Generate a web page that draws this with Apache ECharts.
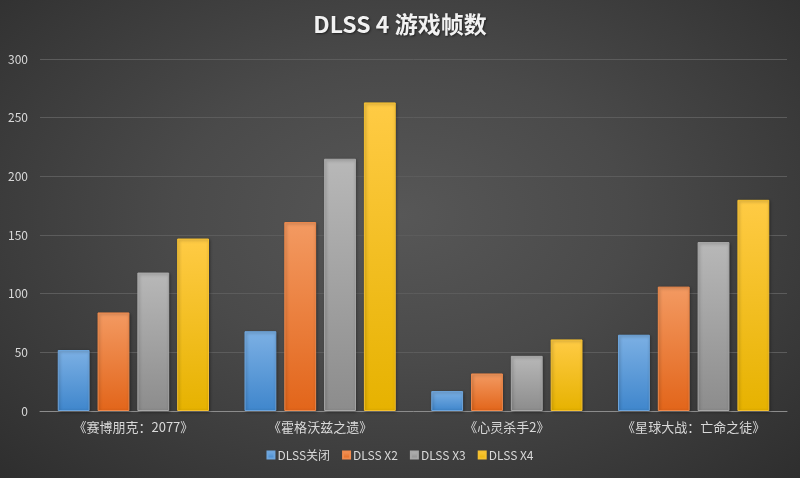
<!DOCTYPE html>
<html>
<head>
<meta charset="utf-8">
<script src="https://cdn.jsdelivr.net/npm/echarts@6/dist/echarts.min.js"></script>
<style>
    html, body { margin: 0; padding: 0; }
    #chart {
        width: 800px; height: 478px;
        background: radial-gradient(ellipse at 50% 45%, #575757 0%, #4a4a4a 40%, #2e2e2e 100%);
    }
</style>
</head>
<body>
<div id="chart"></div>
<script>
const games = ["《赛博朋克：2077》", "《霍格沃兹之遗》", "《心灵杀手2》", "《星球大战：亡命之徒》"];
const dlssOff = [52, 68, 17, 65];
const dlssX2 = [84, 161, 32, 106];
const dlssX3 = [118, 215, 47, 144];
const dlssX4 = [147, 263, 61, 180];
const yTicks = { min: 0, max: 300, interval: 50 };

const fontFamily = "'Noto Sans CJK SC', 'Noto Sans', sans-serif";

function grad(top, bottom) {
    return new echarts.graphic.LinearGradient(0, 0, 0, 1, [
        { offset: 0, color: top },
        { offset: 1, color: bottom }
    ]);
}

function bar(name, data, top, bottom, border) {
    return {
        name: name,
        type: "bar",
        data: data,
        barGap: "25%",
        barCategoryGap: "19%",
        itemStyle: {
            color: grad(top, bottom),
            borderColor: border,
            borderWidth: 1,
            shadowColor: "rgba(0,0,0,0.35)",
            shadowBlur: 3,
            shadowOffsetX: 1,
            shadowOffsetY: 1
        }
    };
}

let myChart = echarts.init(document.getElementById("chart"));
myChart.setOption({
    backgroundColor: "transparent",
    animation: false,
    title: {
        text: "DLSS 4 游戏帧数",
        left: "center",
        top: 8,
        textStyle: {
            color: "#f2f2f2", fontSize: 23, fontWeight: "bold", fontFamily: fontFamily,
            textShadowColor: "rgba(0,0,0,0.5)", textShadowBlur: 2, textShadowOffsetX: 1, textShadowOffsetY: 1
        }
    },
    legend: {
        bottom: 12,
        itemWidth: 7,
        itemHeight: 7,
        itemGap: 12,
        icon: "rect",
        textStyle: { color: "#d9d9d9", fontSize: 12, fontFamily: fontFamily, padding: [0, 0, 0, -2] },
        data: ["DLSS关闭", "DLSS X2", "DLSS X3", "DLSS X4"]
    },
    grid: { left: 40, right: 13, top: 59, bottom: 67 },
    xAxis: {
        type: "category",
        data: games,
        axisLine: { lineStyle: { color: "#8c8c8c", width: 1 } },
        axisTick: { show: false },
        axisLabel: { color: "#d9d9d9", fontSize: 13, fontFamily: fontFamily, margin: 10 }
    },
    yAxis: {
        type: "value",
        min: yTicks.min,
        max: yTicks.max,
        interval: yTicks.interval,
        axisLine: { show: false },
        axisTick: { show: false },
        axisLabel: { color: "#d9d9d9", fontSize: 12, fontFamily: fontFamily, margin: 12 },
        splitLine: { lineStyle: { color: "#5c5c5c", width: 1 } }
    },
    series: [
        bar("DLSS关闭", dlssOff, "#7cb0e4", "#3f86cc", "#6ea5dc"),
        bar("DLSS X2", dlssX2, "#f39a62", "#e2651a", "#f08a4c"),
        bar("DLSS X3", dlssX3, "#b8b8b8", "#8c8c8c", "#a8a8a8"),
        bar("DLSS X4", dlssX4, "#ffcb45", "#e6b200", "#f5c030")
    ],
    color: ["#5b9bd5", "#ed7d31", "#a5a5a5", "#ffc000"]
});
</script>
</body>
</html>
